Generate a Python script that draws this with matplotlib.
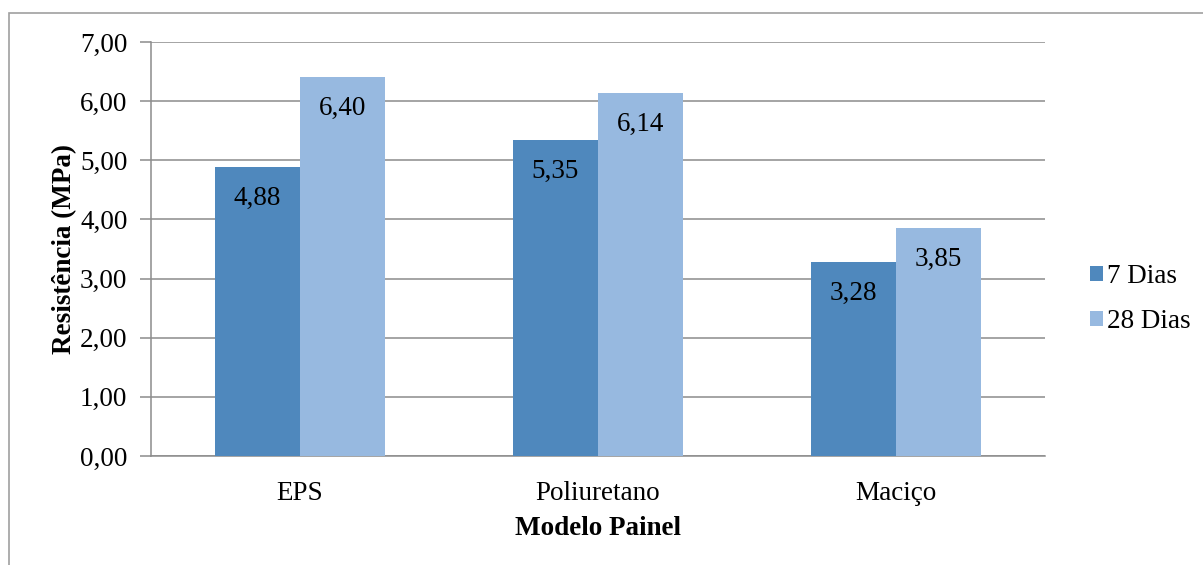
import matplotlib
matplotlib.use("Agg")
import matplotlib.pyplot as plt
import numpy as np
from matplotlib.patches import Rectangle

categories = ["EPS", "Poliuretano", "Maciço"]
series_names = ["7 Dias", "28 Dias"]
dias7 = [4.88, 5.35, 3.28]
dias28 = [6.40, 6.14, 3.85]
yticks = [0, 1, 2, 3, 4, 5, 6, 7]

colors = ["#4F88BD", "#97B9E0"]
grid_c = "#8C8C8C"
fs = 19.5

plt.rcParams["font.family"] = ["Liberation Serif", "DejaVu Serif"]

W, H = 1203, 565
fig = plt.figure(figsize=(W / 100, H / 100), dpi=100)

# chart frame
fig.patches.append(Rectangle((9 / W, -0.1), 1.2, 1 - 13 / H + 0.1, transform=fig.transFigure,
                             fill=False, edgecolor="#A0A0A0", linewidth=1.2))

ax = fig.add_axes([151 / W, 1 - 456 / H, (1045 - 151) / W, (456 - 42) / H])

x = np.arange(len(categories))
w = 1 / 3.5
vals = [dias7, dias28]
for i, (name, v) in enumerate(zip(series_names, vals)):
    pos = x + (i - 0.5) * w
    bars = ax.bar(pos, v, width=w, color=colors[i], label=name, zorder=3)
    for b, val in zip(bars, v):
        ax.text(b.get_x() + b.get_width() / 2, val - 0.53, f"{val:.2f}".replace(".", ","),
                ha="center", va="center", fontsize=fs, zorder=4)

ax.set_xlim(-0.5, len(categories) - 0.5)
ax.set_ylim(0, 7)
ax.set_yticks(yticks)
ax.set_yticklabels([f"{t:.2f}".replace(".", ",") for t in yticks], fontsize=fs)
ax.set_xticks(x)
ax.set_xticklabels(categories, fontsize=fs)
ax.yaxis.grid(True, color=grid_c, linewidth=1.1, zorder=0)
ax.set_axisbelow(True)
for s in ["top", "right"]:
    ax.spines[s].set_visible(False)
for s in ["left", "bottom"]:
    ax.spines[s].set_color(grid_c)
    ax.spines[s].set_linewidth(1.1)
ax.tick_params(axis="y", length=8, color=grid_c, width=1.1, pad=9)
ax.tick_params(axis="x", length=0, pad=18)

ax.set_ylabel("Resistência (MPa)", fontsize=fs, fontweight="bold", labelpad=2)
ax.set_xlabel("Modelo Painel", fontsize=fs, fontweight="bold", labelpad=7)

leg = fig.legend(loc="center left", bbox_to_anchor=(1066 / W, 1 - 299 / H), frameon=False,
                 fontsize=fs, handlelength=0.45, handleheight=0.45, handletextpad=0.15,
                 labelspacing=0.74)

fig.savefig("out.png", dpi=100)
